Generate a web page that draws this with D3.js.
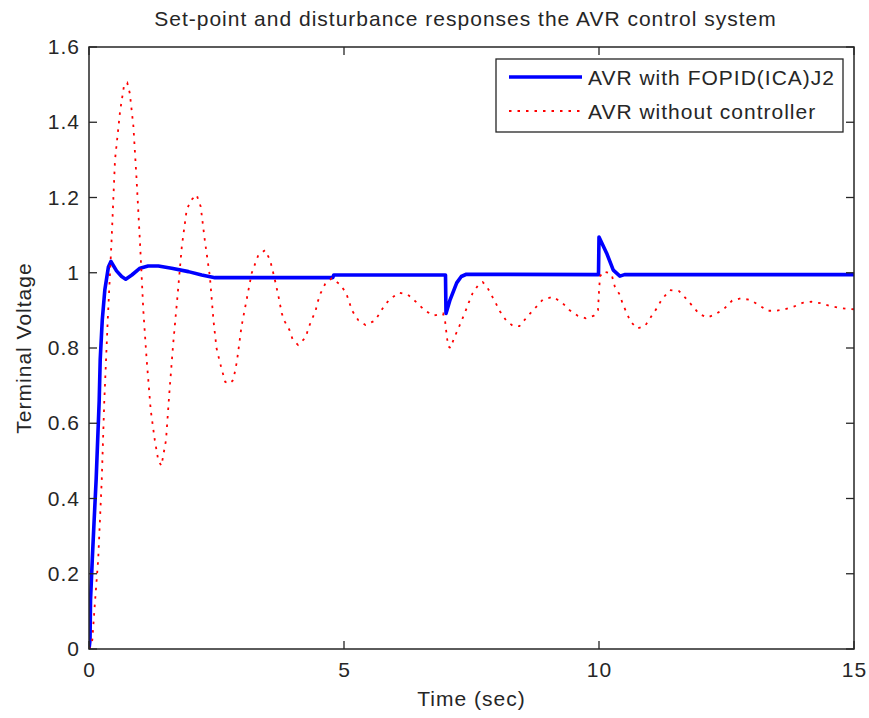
<!DOCTYPE html>
<html><head><meta charset="utf-8">
<script src="https://cdn.jsdelivr.net/npm/d3@7"></script>
<style>
html,body{margin:0;padding:0;background:#fff;}
svg text{font-family:"Liberation Sans",Arial,Helvetica,sans-serif;fill:#262626;letter-spacing:1px;}
</style></head>
<body><svg id="c" width="869" height="718"></svg>
<script>
const title = "Set-point and disturbance responses the AVR control system";
const xLabel = "Time (sec)";
const yLabel = "Terminal Voltage";
const xTicks = [0, 5, 10, 15];
const yTicks = [0, 0.2, 0.4, 0.6, 0.8, 1, 1.2, 1.4, 1.6];
const seriesNames = ["AVR with FOPID(ICA)J2", "AVR without controller"];

const blueT = [0,0.02,0.03,0.065,0.10,0.14,0.17,0.20,0.22,0.26,0.31,0.38,0.43,0.54,0.64,0.72,0.84,1.0,1.16,1.36,1.62,1.95,2.21,2.47,3.0,4.0,4.78,4.8,6.99,7.0,7.08,7.21,7.3,7.4,9.99,10.0,10.15,10.28,10.41,10.5,15];
const blueV = [0,0.024,0.13,0.24,0.34,0.45,0.555,0.66,0.77,0.874,0.954,1.015,1.03,1.005,0.99,0.983,0.994,1.012,1.018,1.018,1.012,1.003,0.994,0.987,0.987,0.987,0.987,0.994,0.994,0.892,0.928,0.973,0.99,0.996,0.995,1.095,1.052,1.007,0.991,0.995,0.995];

const redT = [0,0.065,0.12,0.18,0.25,0.30,0.366,0.44,0.51,0.61,0.69,0.75,0.80,0.87,0.93,1.0,1.065,1.13,1.21,1.29,1.36,1.42,1.51,1.575,1.65,1.74,1.82,1.915,2.0,2.11,2.19,2.27,2.37,2.44,2.5,2.57,2.67,2.75,2.83,2.9,2.99,3.09,3.19,3.32,3.45,3.55,3.63,3.71,3.78,3.84,3.93,3.99,4.10,4.25,4.30,4.37,4.44,4.48,4.54,4.63,4.76,4.92,5.04,5.16,5.28,5.42,5.61,5.77,5.89,6.08,6.25,6.44,6.59,6.76,6.94,6.98,7.0,7.04,7.09,7.16,7.24,7.31,7.38,7.45,7.52,7.64,7.72,7.81,7.97,8.06,8.18,8.32,8.44,8.61,8.76,8.90,9.10,9.28,9.42,9.58,9.74,9.9,9.98,10.0,10.02,10.08,10.18,10.25,10.31,10.41,10.46,10.54,10.62,10.75,10.9,11.03,11.14,11.23,11.39,11.57,11.73,11.88,11.97,12.12,12.29,12.46,12.61,12.78,12.96,13.14,13.30,13.47,13.65,13.82,13.99,14.17,14.35,14.52,14.69,14.87,15];
const redV = [0,0.024,0.13,0.237,0.45,0.66,0.87,1.078,1.30,1.43,1.50,1.505,1.477,1.39,1.255,1.08,0.90,0.77,0.635,0.555,0.50,0.487,0.555,0.68,0.81,0.945,1.07,1.167,1.193,1.207,1.176,1.087,0.99,0.874,0.80,0.76,0.71,0.705,0.715,0.764,0.857,0.928,0.999,1.047,1.06,1.034,0.99,0.941,0.892,0.87,0.848,0.824,0.808,0.828,0.852,0.876,0.897,0.921,0.945,0.97,0.985,0.969,0.947,0.899,0.874,0.861,0.873,0.908,0.929,0.947,0.942,0.919,0.899,0.886,0.892,0.874,0.85,0.805,0.80,0.827,0.851,0.874,0.897,0.922,0.945,0.969,0.975,0.961,0.921,0.897,0.873,0.858,0.858,0.886,0.908,0.929,0.936,0.92,0.901,0.886,0.879,0.886,0.90,0.95,0.99,1.003,1.0,0.994,0.963,0.941,0.919,0.894,0.87,0.852,0.858,0.885,0.907,0.929,0.954,0.951,0.928,0.904,0.89,0.881,0.89,0.905,0.926,0.932,0.928,0.914,0.899,0.899,0.903,0.91,0.92,0.923,0.919,0.912,0.907,0.904,0.903];

const svg = d3.select("#c");
const L = 89, R = 854, T = 47, B = 649;
const x = d3.scaleLinear().domain([0, 15]).range([L, R]);
const y = d3.scaleLinear().domain([0, 1.6]).range([B, T]);

// title
svg.append("text").attr("x", (L + R) / 2 - 6).attr("y", 26).attr("text-anchor", "middle")
  .style("font-size", "21px").text(title);

// clip
svg.append("clipPath").attr("id", "clip").append("rect")
  .attr("x", L).attr("y", T).attr("width", R - L).attr("height", B - T);

const line = d3.line().x(d => x(d[0])).y(d => y(d[1]));
const red = redT.map((t, i) => [t, redV[i]]);
const blue = blueT.map((t, i) => [t, blueV[i]]);

const g = svg.append("g").attr("clip-path", "url(#clip)");
g.append("path").datum(blue).attr("d", line).attr("fill", "none")
  .attr("stroke", "#0000ff").attr("stroke-width", 3.6).attr("stroke-linejoin", "round");
g.append("path").datum(red).attr("d", line).attr("fill", "none")
  .attr("stroke", "#ff0000").attr("stroke-width", 1.8).attr("stroke-dasharray", "2.5,6");

// axes
const tick = 8;
const axL = d3.axisLeft(y).tickValues(yTicks).tickSize(0).tickPadding(9).tickFormat(d3.format("~g"));
const axB = d3.axisBottom(x).tickValues(xTicks).tickSize(0).tickPadding(13).tickFormat(d3.format("~g"));
const gl = svg.append("g").attr("transform", `translate(${L},0)`).call(axL);
const gb = svg.append("g").attr("transform", `translate(0,${B})`).call(axB);
[gl, gb].forEach(a => {
  a.select(".domain").remove();
  a.selectAll("text").style("font-size", "21px").attr("fill", "#262626");
});

// ticks inward on all sides
const tg = svg.append("g").attr("stroke", "#262626").attr("stroke-width", 1.3);
yTicks.forEach(v => {
  tg.append("line").attr("x1", L).attr("x2", L + tick).attr("y1", y(v)).attr("y2", y(v));
  tg.append("line").attr("x1", R).attr("x2", R - tick).attr("y1", y(v)).attr("y2", y(v));
});
xTicks.forEach(v => {
  tg.append("line").attr("x1", x(v)).attr("x2", x(v)).attr("y1", B).attr("y2", B - tick);
  tg.append("line").attr("x1", x(v)).attr("x2", x(v)).attr("y1", T).attr("y2", T + tick);
});
svg.append("rect").attr("x", L).attr("y", T).attr("width", R - L).attr("height", B - T)
  .attr("fill", "none").attr("stroke", "#262626").attr("stroke-width", 1.5);

// axis labels
svg.append("text").attr("x", (L + R) / 2).attr("y", 706).attr("text-anchor", "middle")
  .style("font-size", "21px").text(xLabel);
svg.append("text").attr("transform", `translate(31,${(T + B) / 2}) rotate(-90)`)
  .attr("text-anchor", "middle").style("font-size", "21px").text(yLabel);

// legend
const lg = svg.append("g");
lg.append("rect").attr("x", 496).attr("y", 59).attr("width", 347).attr("height", 73)
  .attr("fill", "#fff").attr("stroke", "#262626").attr("stroke-width", 1.3);
const legItems = [
  {name: seriesNames[0], color: "#0000ff", w: 3.6, dash: null, yy: 77},
  {name: seriesNames[1], color: "#ff0000", w: 1.8, dash: "2.5,6", yy: 111}
];
legItems.forEach(it => {
  lg.append("line").attr("x1", 509).attr("x2", 582).attr("y1", it.yy).attr("y2", it.yy)
    .attr("stroke", it.color).attr("stroke-width", it.w).attr("stroke-dasharray", it.dash);
  lg.append("text").attr("x", 588).attr("y", it.yy + 8).style("font-size", "21px").text(it.name);
});
</script></body></html>
